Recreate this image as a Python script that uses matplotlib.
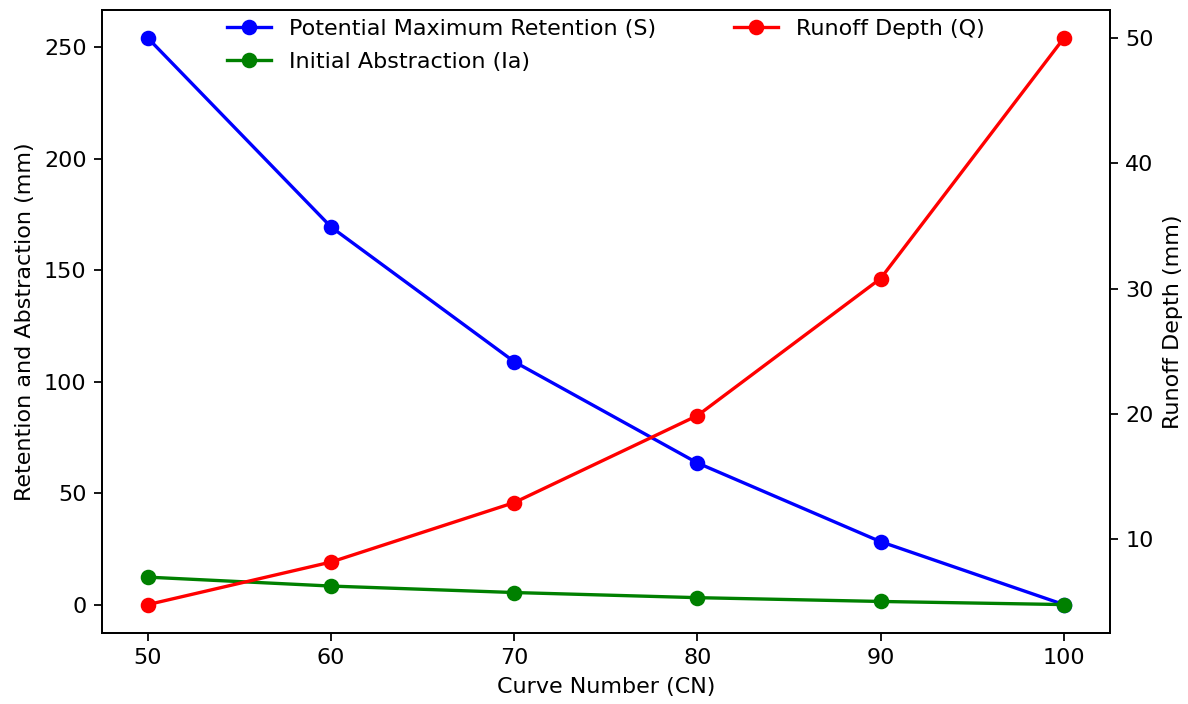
import numpy as np
import matplotlib.pyplot as plt

cn = [50, 60, 70, 80, 90, 100]
retention_s = [254.0, 169.3, 108.9, 63.5, 28.2, 0.0]
abstraction_ia = [12.3, 8.3, 5.4, 3.1, 1.4, 0.0]
runoff_q = [4.75, 8.15, 12.9, 19.85, 30.8, 50.0]

fig, ax1 = plt.subplots(figsize=(7.425, 4.4), dpi=160)
fig.subplots_adjust(left=0.086, right=0.934, top=0.986, bottom=0.101)

l1, = ax1.plot(cn, retention_s, color='blue', marker='o',
               label='Potential Maximum Retention (S)')
l2, = ax1.plot(cn, abstraction_ia, color='green', marker='o',
               label='Initial Abstraction (Ia)')
ax1.set_xlabel('Curve Number (CN)')
ax1.set_ylabel('Retention and Abstraction (mm)')

ax2 = ax1.twinx()
l3, = ax2.plot(cn, runoff_q, color='red', marker='o', label='Runoff Depth (Q)')
ax2.set_ylabel('Runoff Depth (mm)')

ax1.legend(handles=[l1, l2, l3], loc='upper center', ncol=2, frameon=False,
           columnspacing=3.5, labelspacing=0.58, bbox_to_anchor=(0.5, 1.018))

fig.savefig('out.png')
